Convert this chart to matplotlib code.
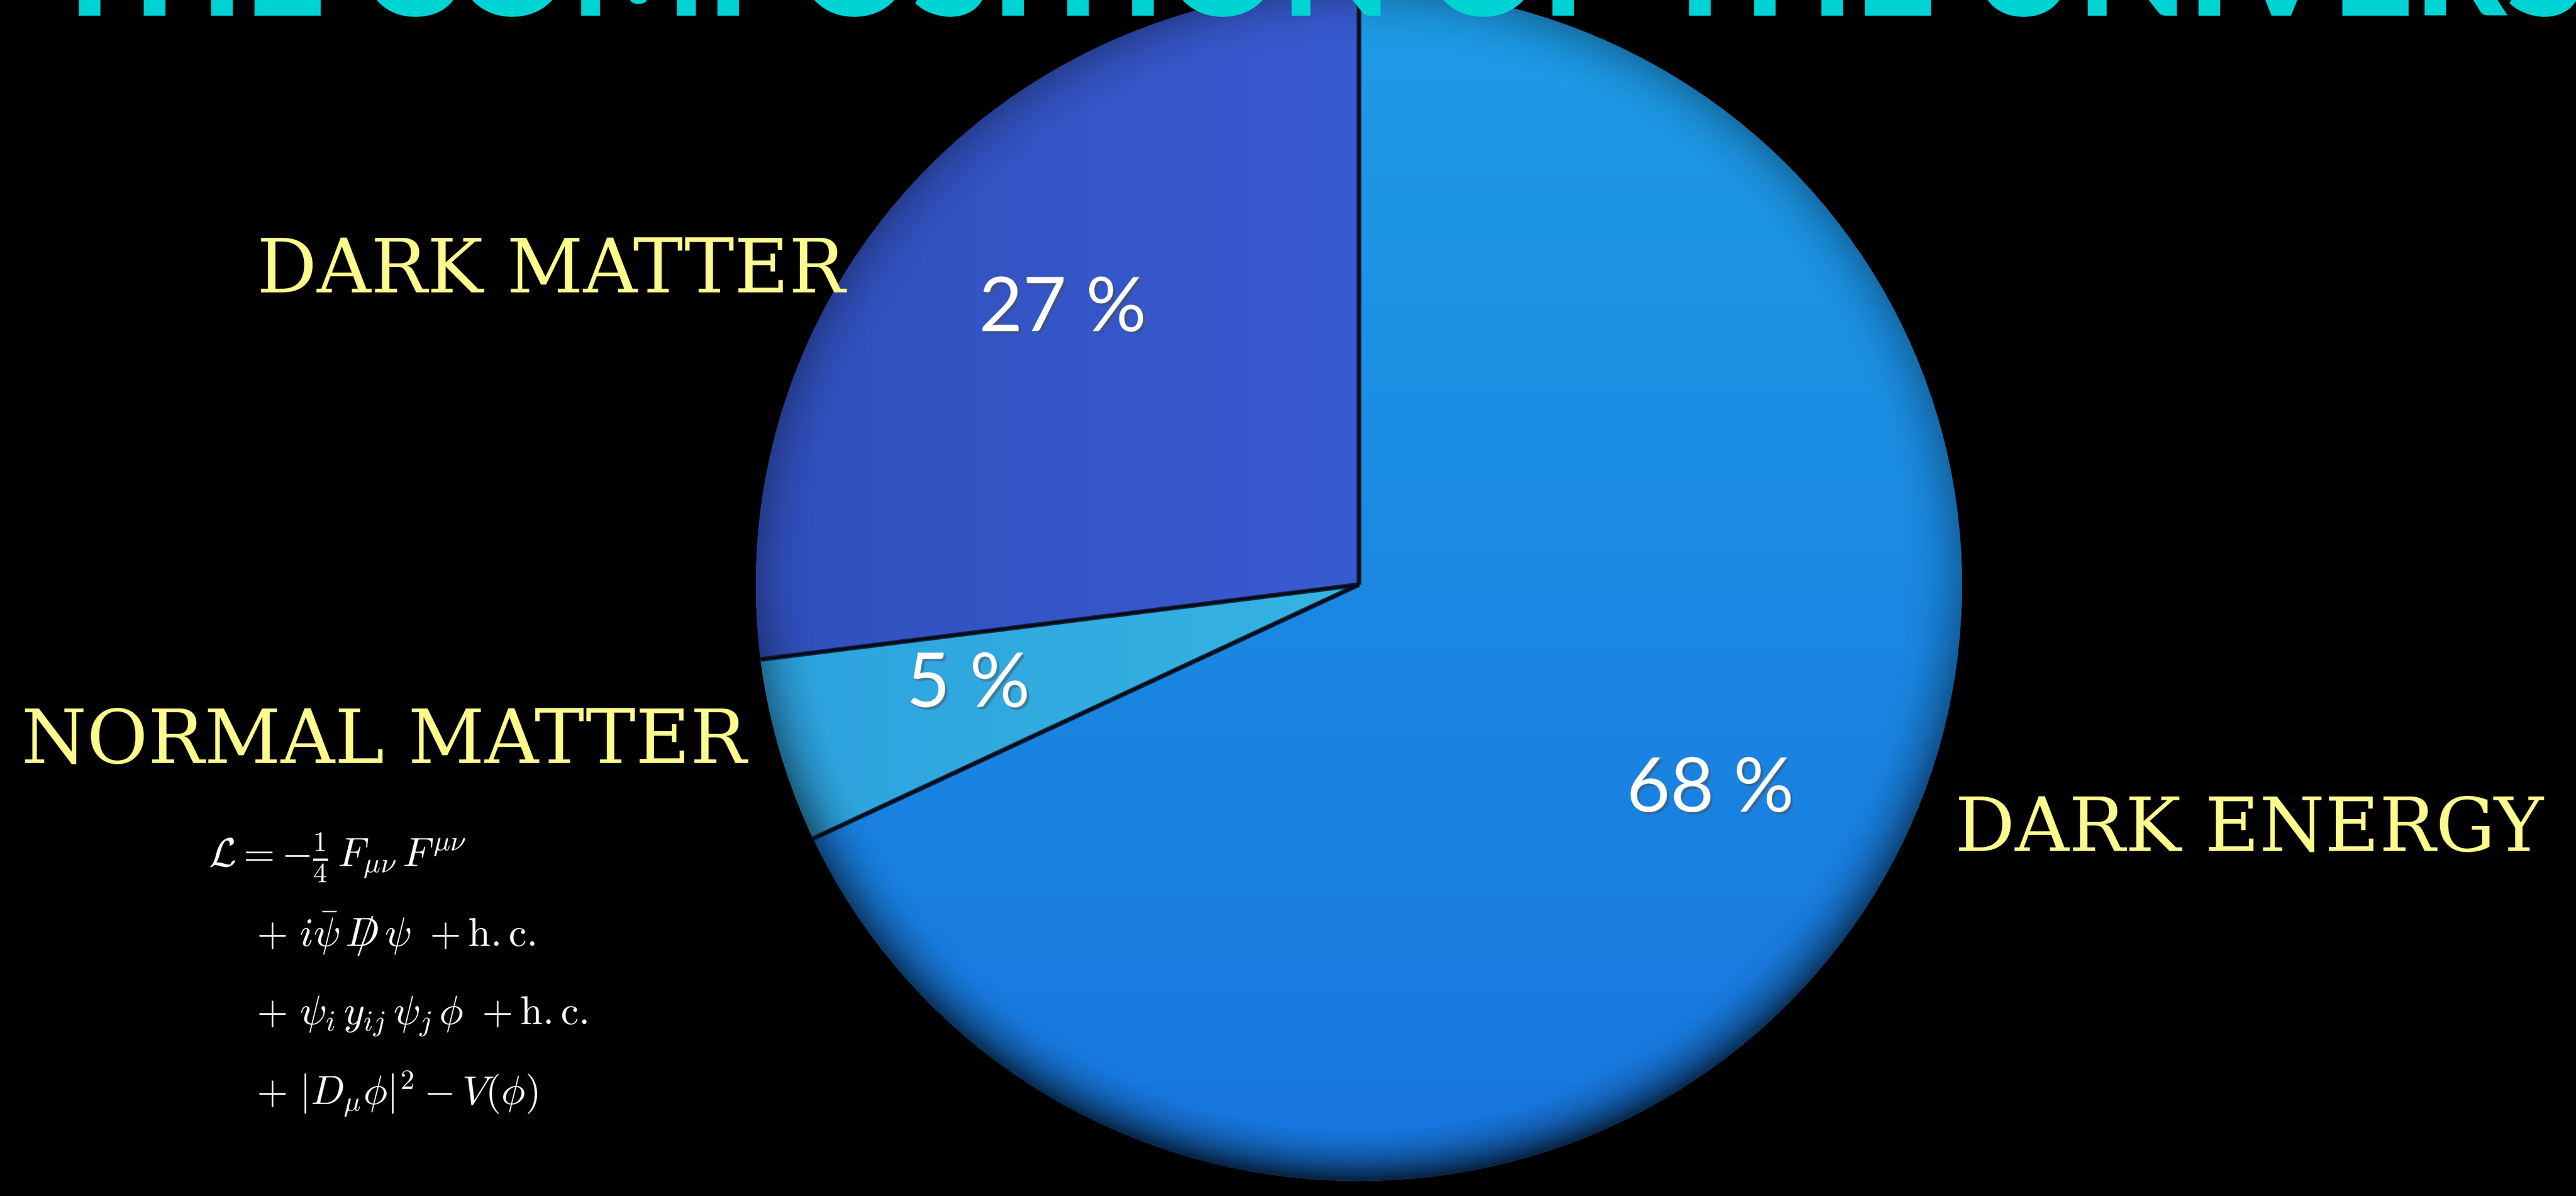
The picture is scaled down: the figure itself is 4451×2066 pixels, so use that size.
import numpy as np
import matplotlib.pyplot as plt
import matplotlib.patheffects as pe
from matplotlib.colors import to_rgb
from matplotlib.patches import Circle

plt.rcParams["mathtext.fontset"] = "cm"

W, H = 4451, 2066

title = "THE COMPOSITION OF THE UNIVERSE"
categories = ["DARK MATTER", "NORMAL MATTER", "DARK ENERGY"]
shares = [27, 5, 68]
pct_labels = ["27 %", "5 %", "68 %"]
colors = ["#3C5CD9", "#35B3E2", "#1B8AE3"]
gradients = [("#3150BD", "#4166E4"), ("#2EA2DE", "#3CC6E7"), ("#1876DF", "#1E9CE6")]
lagrangian = [
    r"$\mathcal{L} = -\frac{1}{4}\,F_{\mu\nu}\,F^{\mu\nu}$",
    r"$+\ i\bar{\psi}\,D\!\!\!\!/\;\psi\ +\mathrm{h.c.}$",
    r"$+\ \psi_i\,y_{ij}\,\psi_j\,\phi\ +\mathrm{h.c.}$",
    r"$+\ |D_\mu\phi|^2 - V(\phi)$",
]

# pie geometry in pixels (from top-left)
cx, cy, rx, ry = 2348, 1010, 1042, 1030


def fx(x):
    return x / W


def fy(y):
    return 1 - y / H


def gradient(c0, c1, horizontal=True, n=256):
    t = np.linspace(0, 1, n)
    a, b = np.array(to_rgb(c0)), np.array(to_rgb(c1))
    line = a[None, :] * (1 - t[:, None]) + b[None, :] * t[:, None]
    if horizontal:
        return np.repeat(line[None, :, :], n, axis=0)
    return np.repeat(line[:, None, :], n, axis=1)


def main():
    fig = plt.figure(figsize=(W / 100, H / 100), dpi=100, facecolor="black")
    ax = fig.add_axes([0, 0, 1, 1])
    ax.set_facecolor("black")

    wedges, _ = ax.pie(shares, colors=colors, startangle=90, counterclock=True,
                       radius=1, wedgeprops=dict(linewidth=0))

    # soft colour gradients inside each slice
    dirs = [True, True, False]
    for w, (c0, c1), hz in zip(wedges, gradients, dirs):
        im = ax.imshow(gradient(c0, c1, hz), extent=(-1, 1, -1, 1), origin="lower",
                       aspect="auto", interpolation="bicubic", zorder=2)
        im.set_clip_path(w)

    # darker rim towards the edge
    n = 400
    u = np.linspace(-1, 1, n)
    X, Y = np.meshgrid(u, u)
    R = np.sqrt(X ** 2 + Y ** 2)
    alpha = np.clip((R - 0.9) / 0.1, 0, 1) ** 2 * (0.25 + 0.45 * np.clip(-Y, 0, 1))
    rim = np.zeros((n, n, 4))
    rim[..., 3] = alpha
    disc = Circle((0, 0), 1, transform=ax.transData, visible=False)
    ax.add_patch(disc)
    im = ax.imshow(rim, extent=(-1, 1, -1, 1), origin="lower", aspect="auto",
                   interpolation="bilinear", zorder=3)
    im.set_clip_path(disc)

    # dark separators between slices
    angles = 90 + np.cumsum([0] + shares[:-1]) * 3.6
    for a in angles:
        r = np.radians(a)
        ax.plot([0, np.cos(r)], [0, np.sin(r)], color="#0b1326", lw=6,
                solid_capstyle="butt", zorder=4, alpha=0.85)
        ax.plot([0, np.cos(r)], [0, np.sin(r)], color="#050810", lw=2.5,
                solid_capstyle="butt", zorder=4)

    ax.set_xlim(-cx / rx, (W - cx) / rx)
    ax.set_ylim((cy - H) / ry, cy / ry)
    ax.set_aspect("auto")
    ax.axis("off")

    shadow = [pe.SimplePatchShadow(offset=(3, -3), alpha=0.45), pe.Normal()]
    pct_pos = [(1836, 535), (1673, 1184), (2955, 1365)]
    for s, (x, y) in zip(pct_labels, pct_pos):
        fig.text(fx(x), fy(y), s, ha="center", va="center", fontsize=94,
                 color="white", family="Lato", fontweight="normal",
                 path_effects=shadow)

    cat_pos = [(952, 505), (663, 1318), (3886, 1470)]
    for s, (x, y) in zip(categories, cat_pos):
        fig.text(fx(x), fy(y), s, ha="center", va="baseline", fontsize=93,
                 color="#FDFB8E", family="DejaVu Serif")

    t = fig.text(fx(80), fy(27), title, ha="left", va="baseline", fontsize=100,
                 color="#00D3D3", family="Lato", fontweight="black")
    rend = fig.canvas.get_renderer()
    width = t.get_window_extent(rend).width
    t.set_fontsize(100 * 4530 / width)

    eq_pos = [(360, 1482), (443, 1614), (443, 1757), (443, 1890)]
    for s, (x, y) in zip(lagrangian, eq_pos):
        fig.text(fx(x), fy(y), s, ha="left", va="center", fontsize=50, color="white")

    fig.savefig("out.png", dpi=100, facecolor="black")


if __name__ == "__main__":
    main()
